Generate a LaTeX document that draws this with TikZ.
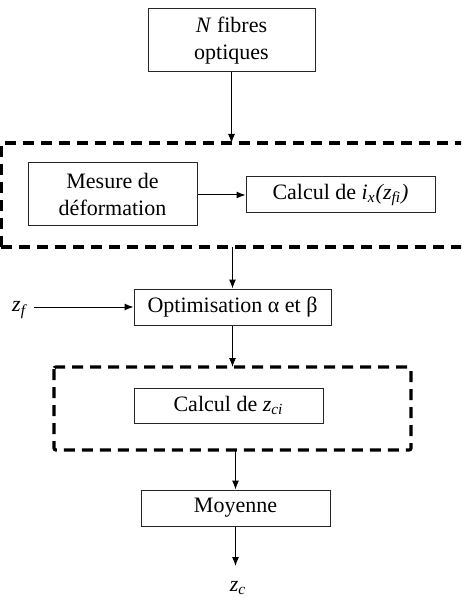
\documentclass[tikz,border=0pt]{standalone}
\usepackage{fontspec}
\setmainfont{Liberation Serif}
\usetikzlibrary{arrows.meta}
\begin{document}
\begin{tikzpicture}[x=0.5pt,y=-0.5pt,
  box/.style={draw=black!85, line width=0.5pt, inner sep=0pt, align=center,
    font=\fontsize{11}{13.5}\selectfont},
  lbl/.style={inner sep=1pt, font=\fontsize{11}{13.5}\selectfont},
  arr/.style={line width=0.5pt, -{Latex[length=4.5pt,width=3.5pt]}},
  group/.style={line width=1.6pt, dash pattern=on 5.5pt off 3.5pt}]
\useasboundingbox (0,0) rectangle (461,598);
\clip (0,0) rectangle (461,598);
\node[box, minimum width=83.5pt, minimum height=31.5pt] (fib) at (231.5,40.5) {\textit{N} fibres\\optiques};
\node[box, minimum width=84.5pt, minimum height=31.5pt] (mes) at (112.5,194.5) {Mesure de\\déformation};
\node[box, minimum width=94.5pt, minimum height=18pt] (cal1) at (340.5,195) {Calcul de \textit{i}\textsubscript{\textit{x}}\textit{(z}\textsubscript{\textit{fi}}\textit{)}};
\node[box, minimum width=98.5pt, minimum height=18pt] (opt) at (232.5,307) {Optimisation α et β};
\node[box, minimum width=94.5pt, minimum height=17.5pt] (cal2) at (228.5,405.5) {Calcul de \textit{z}\textsubscript{\textit{ci}}};
\node[box, minimum width=94.5pt, minimum height=18pt] (moy) at (235.5,508) {Moyenne};
\node[lbl] (zf) at (20,310) {\textit{z}\textsubscript{\textit{f}}};
\node[lbl] (zc) at (238,588) {\textit{z}\textsubscript{\textit{c}}};
\draw[group] (1,247) -- (1,143) -- (475,143) (1,247) -- (475,247);
\draw[group, rounded corners=1pt] (54,367) rectangle (411,450);
\coordinate (g1t) at (231.5,143);
\coordinate (g1b) at (232.5,247);
\coordinate (g2t) at (232.5,367);
\coordinate (g2b) at (235.5,450);
\coordinate (out) at (235.5,566);
\draw[arr] (fib.south) -- (g1t);
\draw[arr] (mes.east |- cal1.west) -- (cal1.west);
\draw[arr] (g1b) -- (opt.north);
\draw[arr] ([xshift=2pt]zf.east |- opt.west) -- (opt.west);
\draw[arr] (opt.south) -- (g2t);
\draw[arr] (g2b) -- (moy.north);
\draw[arr] (moy.south) -- (out);
\end{tikzpicture}
\end{document}
